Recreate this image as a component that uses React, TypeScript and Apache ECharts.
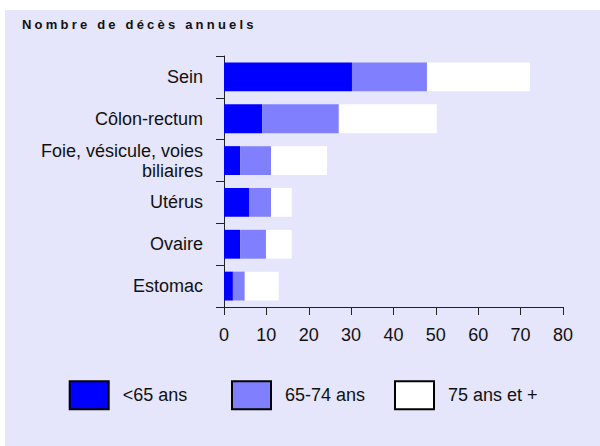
import React, { useEffect, useRef } from "react";
import * as echarts from "echarts";

const categories = [
  "Sein",
  "Côlon-rectum",
  "Foie, vésicule, voies\nbiliaires",
  "Utérus",
  "Ovaire",
  "Estomac",
];
const under65 = [30.2, 9.0, 3.8, 5.9, 3.8, 2.1];
const age65to74 = [17.7, 18.1, 7.3, 5.2, 6.1, 2.8];
const over75 = [24.3, 23.1, 13.2, 4.9, 6.1, 8.0];
const seriesNames = ["<65 ans", "65-74 ans", "75 ans et +"];
const xTicks = { min: 0, max: 80, interval: 10 };
const titleText = "Nombre de décès annuels";

const FONT = "'Liberation Sans', Arial, Helvetica, sans-serif";
const AXIS = "#222";

export default function App() {
  const ref = useRef<HTMLDivElement>(null);
  useEffect(() => {
    if (!ref.current) return;
    const chart = echarts.init(ref.current, null, { renderer: "svg" });
    const colors = ["#0000FF", "#8080FF", "#FFFFFF"];
    const data = [under65, age65to74, over75];
    const legendLefts = [68.7, 231, 394];
    chart.setOption({
      animation: false,
      textStyle: { fontFamily: FONT },
      graphic: [
        {
          type: "rect",
          shape: { x: 5, y: 10, width: 595, height: 436 },
          style: { fill: "#E5E5FB" },
          z: -10,
          silent: true,
        },
        {
          type: "text",
          x: 22,
          y: 24,
          style: {
            text: titleText,
            font: `bold 13px ${FONT}`,
            fill: "#111",
            textVerticalAlign: "middle",
          },
          silent: true,
        },
      ],
      grid: { left: 224, right: 37, top: 56, bottom: 139, containLabel: false },
      legend: seriesNames.map((n, i) => ({
        data: [n],
        left: legendLefts[i],
        top: 380.3,
        padding: 0,
        itemWidth: 39,
        itemHeight: 28,
        icon: "rect",
        selectedMode: false,
        itemStyle: { borderColor: "#000", borderWidth: 2 },
        textStyle: {
          fontSize: 18,
          color: "#111",
          fontFamily: FONT,
          padding: [0, 0, 8, 9],
        },
      })),
      xAxis: {
        type: "value",
        min: xTicks.min,
        max: xTicks.max,
        interval: xTicks.interval,
        splitLine: { show: false },
        axisLine: { show: true, lineStyle: { color: AXIS, width: 1 } },
        axisTick: { show: true, length: 8, lineStyle: { color: AXIS } },
        axisLabel: { fontSize: 18, color: "#111", margin: 19, fontFamily: FONT },
      },
      yAxis: {
        type: "category",
        data: categories,
        inverse: true,
        axisLine: { show: true, lineStyle: { color: AXIS, width: 1 } },
        axisTick: { show: true, length: 8, lineStyle: { color: AXIS } },
        axisLabel: {
          fontSize: 18,
          color: "#111",
          margin: 21,
          lineHeight: 20,
          fontFamily: FONT,
        },
      },
      series: seriesNames.map((n, i) => ({
        name: n,
        type: "bar",
        stack: "total",
        data: data[i],
        barCategoryGap: "31%",
        itemStyle: { color: colors[i] },
        silent: true,
      })),
    });
    const texts = ref.current.querySelectorAll("text");
    texts.forEach((t) => {
      if (t.textContent === titleText) {
        (t as SVGTextElement).style.letterSpacing = "3.2px";
      }
    });
    return () => chart.dispose();
  }, []);
  return (
    <div
      ref={ref}
      style={{ position: "absolute", left: 0, top: 0, width: 600, height: 446, background: "#fff" }}
    />
  );
}
